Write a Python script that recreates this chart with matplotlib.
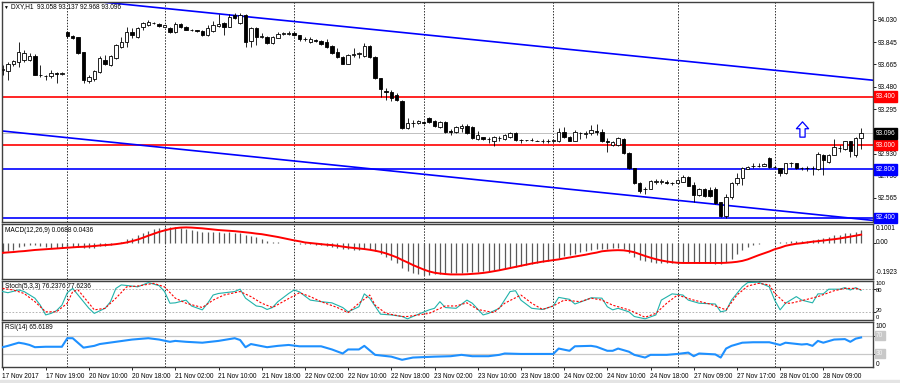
import numpy as np
import matplotlib
matplotlib.use('Agg')
import matplotlib.pyplot as plt
from matplotlib.transforms import blended_transform_factory
from matplotlib.path import Path
from matplotlib.patches import Rectangle

plt.rcParams['font.family'] = ['Liberation Sans', 'DejaVu Sans']
FS = 4.7

# ---- data (DXY, H1) ----
opens = [93.620, 93.610, 93.670, 93.685, 93.700, 93.700, 93.730, 93.580, 93.570, 93.565, 93.590, 93.585,
         93.930, 93.900, 93.890, 93.770, 93.530, 93.545, 93.600, 93.700, 93.660, 93.720, 93.810, 93.850,
         93.930, 93.890, 93.975, 93.990, 94.005, 94.000, 93.975, 93.965, 93.930, 94.000, 93.975, 93.950,
         93.945, 93.940, 93.910, 93.940, 93.980, 94.005, 93.975, 94.070, 94.005, 94.070, 93.860, 93.965,
         93.890, 93.890, 93.840, 93.885, 93.915, 93.915, 93.925, 93.905, 93.875, 93.845, 93.865, 93.860,
         93.845, 93.815, 93.770, 93.725, 93.670, 93.745, 93.750, 93.735, 93.815, 93.725, 93.550, 93.445,
         93.440, 93.410, 93.365, 93.140, 93.180, 93.185, 93.190, 93.225, 93.200, 93.150, 93.190, 93.115,
         93.105, 93.140, 93.160, 93.150, 93.050, 93.065, 93.050, 93.030, 93.060, 93.050, 93.070, 93.100,
         93.040, 93.040, 93.042, 93.035, 93.035, 93.030, 93.035, 93.035, 93.110, 93.070, 93.035, 93.100,
         93.095, 93.100, 93.120, 93.105, 93.030, 93.000, 93.000, 93.050, 92.935, 92.810, 92.690, 92.640,
         92.640, 92.700, 92.700, 92.700, 92.688, 92.690, 92.700, 92.740, 92.670, 92.590, 92.640, 92.630,
         92.640, 92.530, 92.420, 92.570, 92.685, 92.730, 92.805, 92.828, 92.830, 92.830, 92.895, 92.820,
         92.810, 92.770, 92.850, 92.850, 92.810, 92.810, 92.812, 92.800, 92.920, 92.860, 92.920, 92.978,
         92.965, 93.030, 92.920, 93.058]
highs = [93.660, 93.680, 93.700, 93.850, 93.780, 93.760, 93.750, 93.660, 93.580, 93.620, 93.600, 93.600,
         93.940, 93.910, 93.890, 93.770, 93.580, 93.620, 93.730, 93.740, 93.740, 93.830, 93.890, 93.970,
         93.960, 93.970, 94.015, 94.030, 94.015, 94.005, 93.990, 93.975, 94.010, 94.005, 93.980, 93.955,
         93.950, 93.945, 93.990, 94.020, 94.080, 94.010, 94.080, 94.090, 94.090, 94.080, 93.970, 93.975,
         93.925, 93.895, 93.900, 93.930, 93.935, 93.940, 93.935, 93.910, 93.890, 93.890, 93.875, 93.865,
         93.870, 93.820, 93.800, 93.730, 93.750, 93.800, 93.770, 93.840, 93.820, 93.730, 93.555, 93.470,
         93.450, 93.425, 93.370, 93.220, 93.207, 93.210, 93.200, 93.235, 93.210, 93.200, 93.200, 93.130,
         93.160, 93.175, 93.170, 93.160, 93.120, 93.070, 93.065, 93.075, 93.075, 93.090, 93.110, 93.105,
         93.050, 93.045, 93.060, 93.040, 93.050, 93.050, 93.050, 93.140, 93.150, 93.075, 93.125, 93.110,
         93.115, 93.165, 93.175, 93.130, 93.060, 93.030, 93.070, 93.060, 92.940, 92.815, 92.700, 92.655,
         92.715, 92.720, 92.720, 92.710, 92.700, 92.720, 92.755, 92.745, 92.700, 92.650, 92.645, 92.655,
         92.655, 92.535, 92.600, 92.700, 92.770, 92.820, 92.830, 92.850, 92.850, 92.855, 92.905, 92.830,
         92.815, 92.855, 92.860, 92.855, 92.820, 92.825, 92.830, 92.940, 92.930, 92.930, 93.050, 93.000,
         93.035, 93.035, 93.065, 93.137]
lows = [93.580, 93.540, 93.650, 93.640, 93.680, 93.690, 93.575, 93.560, 93.540, 93.550, 93.510, 93.580,
        93.880, 93.870, 93.750, 93.510, 93.510, 93.530, 93.590, 93.660, 93.650, 93.710, 93.800, 93.810,
        93.880, 93.880, 93.950, 93.980, 93.995, 93.975, 93.970, 93.925, 93.920, 93.960, 93.945, 93.940,
        93.935, 93.900, 93.900, 93.930, 93.970, 93.905, 93.970, 94.040, 94.000, 93.810, 93.810, 93.825,
        93.880, 93.835, 93.830, 93.880, 93.905, 93.910, 93.900, 93.860, 93.860, 93.840, 93.850, 93.820,
        93.800, 93.750, 93.715, 93.665, 93.665, 93.725, 93.720, 93.725, 93.720, 93.545, 93.395, 93.370,
        93.365, 93.360, 93.130, 93.130, 93.150, 93.175, 93.170, 93.185, 93.150, 93.140, 93.100, 93.080,
        93.100, 93.110, 93.090, 93.050, 93.040, 93.040, 93.020, 92.995, 93.035, 93.040, 93.060, 93.035,
        93.020, 93.030, 93.030, 93.030, 93.020, 93.020, 93.025, 93.025, 93.055, 93.030, 93.030, 93.050,
        93.060, 93.085, 93.085, 93.025, 92.940, 92.995, 92.990, 92.930, 92.800, 92.680, 92.605, 92.598,
        92.635, 92.680, 92.680, 92.680, 92.670, 92.680, 92.695, 92.660, 92.530, 92.585, 92.575, 92.575,
        92.515, 92.405, 92.400, 92.560, 92.675, 92.675, 92.800, 92.810, 92.820, 92.825, 92.815, 92.810,
        92.745, 92.765, 92.820, 92.805, 92.795, 92.790, 92.755, 92.795, 92.755, 92.855, 92.915, 92.940,
        92.960, 92.905, 92.905, 92.968]
closes = [93.630, 93.670, 93.690, 93.766, 93.760, 93.730, 93.580, 93.575, 93.565, 93.590, 93.585, 93.590,
          93.900, 93.885, 93.760, 93.540, 93.560, 93.610, 93.720, 93.670, 93.730, 93.820, 93.850, 93.930,
          93.905, 93.965, 94.005, 94.015, 94.008, 93.980, 93.985, 93.930, 94.000, 93.970, 93.950, 93.948,
          93.940, 93.905, 93.965, 93.990, 94.000, 93.975, 94.055, 94.045, 94.070, 93.850, 93.965, 93.890,
          93.895, 93.840, 93.890, 93.915, 93.920, 93.925, 93.905, 93.875, 93.870, 93.875, 93.860, 93.830,
          93.810, 93.760, 93.725, 93.670, 93.745, 93.750, 93.755, 93.815, 93.725, 93.550, 93.460, 93.440,
          93.390, 93.370, 93.140, 93.180, 93.182, 93.200, 93.180, 93.190, 93.155, 93.190, 93.110, 93.110,
          93.150, 93.160, 93.100, 93.060, 93.080, 93.050, 93.048, 93.065, 93.058, 93.080, 93.100, 93.040,
          93.042, 93.040, 93.040, 93.033, 93.030, 93.035, 93.040, 93.110, 93.070, 93.035, 93.110, 93.100,
          93.097, 93.125, 93.105, 93.030, 93.025, 93.025, 93.060, 92.935, 92.810, 92.690, 92.620, 92.640,
          92.705, 92.700, 92.702, 92.685, 92.690, 92.710, 92.740, 92.665, 92.590, 92.640, 92.580, 92.580,
          92.520, 92.415, 92.570, 92.690, 92.730, 92.810, 92.820, 92.830, 92.832, 92.845, 92.820, 92.820,
          92.770, 92.850, 92.850, 92.810, 92.810, 92.812, 92.810, 92.930, 92.880, 92.920, 92.985, 92.980,
          93.030, 92.950, 93.060, 93.096]

time_labels = ['17 Nov 2017', '17 Nov 19:00', '20 Nov 10:00', '20 Nov 18:00', '21 Nov 02:00',
               '21 Nov 10:00', '21 Nov 18:00', '22 Nov 02:00', '22 Nov 10:00', '22 Nov 18:00',
               '23 Nov 02:00', '23 Nov 10:00', '23 Nov 18:00', '24 Nov 02:00', '24 Nov 10:00',
               '24 Nov 18:00', '27 Nov 09:00', '27 Nov 17:00', '28 Nov 01:00', '28 Nov 09:00']
label_bars = [0, 8, 16, 24, 32, 40, 48, 56, 64, 72, 80, 88, 96, 104, 112, 120, 128, 136, 144, 152]
day_start_bars = [12, 30, 54, 78, 102, 125, 143]

price_ticks = [94.030, 93.845, 93.665, 93.480, 93.295, 92.930, 92.750, 92.565]
red_levels = [93.400, 93.000]
blue_levels = [92.800, 92.400]
last_price = 93.096
upper_channel = [(55, 94.013), (161, 93.535)]
lower_channel = [(0, 93.116), (161, 92.381)]
arrow_bar = 148
arrow_price = 93.129

macd_main = [-0.055, -0.045, -0.040, -0.020, -0.015, -0.012, -0.012, -0.015, -0.022, -0.025, -0.027, -0.028,
             -0.022, -0.020, -0.020, -0.028, -0.030, -0.025, -0.018, -0.015, -0.010, -0.002, 0.005, 0.018,
             0.028, 0.040, 0.052, 0.062, 0.072, 0.078, 0.085, 0.082, 0.083, 0.080, 0.075, 0.070,
             0.065, 0.060, 0.058, 0.058, 0.055, 0.054, 0.056, 0.054, 0.050, 0.042, 0.036, 0.030,
             0.020, 0.012, 0.006, 0.003, 0.000, -0.003, -0.005, -0.006, -0.007, -0.008, -0.010, -0.012,
             -0.015, -0.020, -0.025, -0.032, -0.035, -0.036, -0.036, -0.034, -0.035, -0.043, -0.057, -0.074,
             -0.089, -0.106, -0.133, -0.149, -0.160, -0.167, -0.172, -0.172, -0.168, -0.167, -0.167, -0.163,
             -0.160, -0.158, -0.156, -0.156, -0.154, -0.152, -0.149, -0.145, -0.142, -0.137, -0.131, -0.128,
             -0.124, -0.119, -0.113, -0.106, -0.101, -0.096, -0.089, -0.078, -0.071, -0.066, -0.057, -0.050,
             -0.043, -0.039, -0.035, -0.032, -0.032, -0.030, -0.028, -0.032, -0.053, -0.074, -0.089, -0.098,
             -0.103, -0.106, -0.106, -0.108, -0.108, -0.106, -0.103, -0.103, -0.106, -0.106, -0.108, -0.108,
             -0.110, -0.113, -0.103, -0.085, -0.062, -0.039, -0.021, -0.011, -0.005, -0.002, 0.000, 0.002,
             0.002, 0.007, 0.009, 0.009, 0.011, 0.012, 0.014, 0.021, 0.025, 0.032, 0.039, 0.044,
             0.050, 0.053, 0.059, 0.0688]
macd_signal = [-0.053, -0.051, -0.049, -0.046, -0.044, -0.041, -0.038, -0.036, -0.034, -0.032, -0.030, -0.028,
               -0.026, -0.024, -0.022, -0.021, -0.019, -0.017, -0.014, -0.012, -0.010, -0.007, -0.003, 0.002,
               0.009, 0.017, 0.027, 0.038, 0.048, 0.058, 0.066, 0.073, 0.078, 0.081, 0.082, 0.081,
               0.079, 0.077, 0.074, 0.071, 0.068, 0.066, 0.064, 0.062, 0.059, 0.056, 0.053, 0.049,
               0.046, 0.041, 0.036, 0.031, 0.025, 0.019, 0.013, 0.008, 0.002, -0.001, -0.004, -0.007,
               -0.010, -0.012, -0.016, -0.020, -0.024, -0.027, -0.030, -0.033, -0.037, -0.042, -0.048, -0.056,
               -0.066, -0.077, -0.091, -0.104, -0.118, -0.130, -0.142, -0.152, -0.159, -0.163, -0.166, -0.168,
               -0.168, -0.168, -0.167, -0.165, -0.163, -0.160, -0.156, -0.151, -0.146, -0.140, -0.134, -0.128,
               -0.122, -0.116, -0.110, -0.105, -0.100, -0.096, -0.092, -0.088, -0.083, -0.078, -0.073, -0.068,
               -0.063, -0.057, -0.052, -0.045, -0.042, -0.040, -0.039, -0.040, -0.044, -0.050, -0.060, -0.070,
               -0.079, -0.087, -0.094, -0.099, -0.103, -0.106, -0.107, -0.107, -0.107, -0.107, -0.107, -0.107,
               -0.107, -0.107, -0.106, -0.104, -0.101, -0.096, -0.088, -0.077, -0.066, -0.056, -0.046, -0.034,
               -0.026, -0.016, -0.010, -0.005, -0.002, 0.002, 0.006, 0.009, 0.012, 0.016, 0.019, 0.023,
               0.028, 0.033, 0.038, 0.0436]
macd_range = (-0.1923, 0.1001)

stoch_main_bars = [0, 1, 3, 4, 6, 7, 8, 9, 10, 11, 12, 13, 14, 16, 17, 19, 20, 21, 22, 24, 25, 26, 27, 29,
                   30, 31, 32, 34, 35, 37, 38, 39, 40, 43, 44, 45, 47, 48, 49, 50, 51, 53, 54, 55, 57, 59,
                   61, 63, 64, 66, 67, 68, 70, 72, 74, 75, 76, 79, 80, 81, 82, 84, 86, 87, 89, 90, 92, 94,
                   95, 96, 98, 100, 102, 103, 105, 106, 108, 109, 111, 112, 113, 114, 116, 117, 119, 121,
                   122, 124, 126, 127, 129, 132, 133, 134, 135, 137, 138, 140, 142, 143, 144, 145, 147, 148,
                   150, 151, 152, 153, 155, 156, 157, 158, 159]
stoch_main = [73, 70, 77, 73, 56, 38, 13, 17, 24, 38, 70, 81, 64, 30, 17, 30, 47, 81, 90, 87, 85, 90, 96, 88,
              73, 43, 44, 51, 36, 26, 43, 64, 68, 73, 79, 56, 36, 34, 27, 32, 47, 68, 77, 72, 51, 47,
              44, 32, 21, 34, 67, 56, 15, 13, 9, 3, 9, 26, 30, 47, 32, 30, 51, 43, 13, 17, 30, 73,
              75, 51, 30, 27, 36, 58, 53, 41, 51, 57, 56, 34, 26, 30, 21, 9, 3, 13,
              51, 67, 64, 51, 43, 41, 21, 24, 51, 85, 96, 97, 85, 51, 26, 43, 60, 51,
              44, 67, 67, 79, 79, 83, 77, 83, 76.2376]
stoch_signal_bars = [0, 2, 4, 6, 8, 10, 12, 13, 14, 16, 17, 19, 21, 23, 25, 28, 30, 32, 34, 37, 39, 41, 44,
                     46, 48, 50, 53, 55, 57, 59, 62, 64, 66, 68, 69, 71, 74, 75, 79, 82, 84, 86, 88, 91, 93,
                     96, 98, 100, 102, 104, 107, 109, 111, 113, 116, 119, 121, 123, 125, 128, 131, 134, 136,
                     138, 140, 142, 143, 145, 146, 149, 151, 154, 156, 158, 159]
stoch_signal = [81, 77, 68, 47, 21, 21, 43, 73, 77, 43, 26, 30, 56, 85, 87, 94, 85, 56, 43, 32, 51, 64, 73,
                60, 43, 32, 55, 70, 60, 47, 32, 19, 43, 64, 38, 17, 9, 9, 17, 36, 36, 44, 27, 19, 43,
                64, 43, 27, 36, 51, 47, 56, 51, 38, 26, 7, 17, 43, 64, 51, 41, 26, 64,
                87, 94, 90, 68, 43, 43, 53, 60, 75, 81, 81, 77.6236]

rsi_bars = [0, 1, 3, 4, 5, 6, 8, 11, 12, 13, 15, 17, 18, 21, 24, 27, 29, 31, 32, 34, 37, 40, 43, 44, 45,
            46, 49, 51, 53, 55, 59, 61, 63, 64, 66, 67, 69, 72, 74, 76, 80, 83, 85, 87, 90, 92, 93, 96,
            102, 103, 105, 106, 109, 110, 112, 113, 114, 116, 117, 119, 120, 123, 125, 127, 128, 129, 132,
            133, 134, 135, 137, 139, 142, 144, 145, 148, 149, 150, 151, 152, 154, 156, 157, 158, 159]
rsi_values = [44, 47, 54, 52, 49, 44, 45, 45, 64, 64, 43, 47, 51, 56, 61, 64, 61, 56, 58, 56, 54, 58, 64, 60, 44,
              51, 44, 47, 49, 46, 46, 39, 30, 39, 39, 47, 27, 23, 16, 21, 23, 24, 27, 24, 24, 27, 30, 29,
              29, 41, 36, 46, 47, 45, 36, 36, 41, 34, 27, 21, 27, 27, 29, 32, 24, 30, 28,
              21, 41, 47, 54, 55, 55, 49, 54, 50, 51, 47, 58, 54, 61, 62, 56, 63, 65.6189]

# ---- figure layout (pixel based, like the terminal window) ----
W, H = 900, 383
fig = plt.figure(figsize=(9, 3.83), dpi=100)
fig.patch.set_facecolor('white')


def panel(top, bottom):
    ax = fig.add_axes([2 / W, 1 - bottom / H, 871 / W, (bottom - top) / H])
    ax.set_xlim(-0.5 / 5.4, 870.5 / 5.4)
    for s in ax.spines.values():
        s.set_color('#404040')
        s.set_linewidth(1.0)
    ax.set_xticks([])
    ax.yaxis.tick_right()
    ax.tick_params(axis='y', length=2, width=0.6, pad=1.5, labelsize=FS, colors='black')
    for b in day_start_bars:
        ax.axvline(b, color='#303030', lw=0.7, ls=(0, (1.5, 1.5)), zorder=1)
    return ax


def ftext(x, y, s, **kw):
    kw.setdefault('fontsize', FS)
    kw.setdefault('va', 'center')
    fig.text(x / W, 1 - y / H, s, **kw)


ax = panel(2, 222)
ax2 = panel(224, 279)
ax3 = panel(281, 320)
ax4 = panel(322, 367)

# ---- main price panel ----
o = np.array(opens)
h = np.array(highs)
l = np.array(lows)
c = np.array(closes)
x = np.arange(len(c))
up = c >= o
lo = np.minimum(o, c)
hh = np.maximum(np.abs(c - o), 0.0015)

ax.set_ylim(92.367, 94.178)
ax.axhline(last_price, color='#C0C0C0', lw=0.7, zorder=1)
for lev in red_levels:
    ax.axhline(lev, color='#FF0000', lw=1.2, zorder=2)
for lev in blue_levels:
    ax.axhline(lev, color='#0000FF', lw=1.2, zorder=2)
ax.axline(upper_channel[0], upper_channel[1], color='#0000FF', lw=1.2, zorder=2)
ax.axline(lower_channel[0], lower_channel[1], color='#0000FF', lw=1.2, zorder=2)

ax.vlines(x, l, h, color='black', lw=0.6, zorder=3)
ax.bar(x[up], hh[up], bottom=lo[up], width=0.6, facecolor='white', edgecolor='black', linewidth=0.6, zorder=4)
ax.bar(x[~up], hh[~up], bottom=lo[~up], width=0.6, facecolor='black', edgecolor='black', linewidth=0.6, zorder=4)

arrow = Path([(0, 1), (0.8, 0.1), (0.34, 0.1), (0.34, -1), (-0.34, -1), (-0.34, 0.1), (-0.8, 0.1), (0, 1)],
             [Path.MOVETO] + [Path.LINETO] * 6 + [Path.CLOSEPOLY])
ax.plot([arrow_bar], [arrow_price], marker=arrow, ms=11, mfc='white', mec='#0000FF', mew=0.9, zorder=5)

ax.set_yticks(price_ticks)
ax.set_yticklabels(['%.3f' % p for p in price_ticks])

tr = blended_transform_factory(ax.transAxes, ax.transData)
boxes = [(p, '#FF0000') for p in red_levels] + [(p, '#0000FF') for p in blue_levels] + [(last_price, 'black')]
for p, col in boxes:
    ax.text(1.0035, p, '%.3f' % p, transform=tr, ha='left', va='center', fontsize=FS, color='white',
            bbox=dict(boxstyle='square,pad=0.25', fc=col, ec=col), clip_on=False, zorder=6)

ftext(3, 7, '\u25bc', fontsize=3.5)
ftext(11, 7, 'DXY,H1  %.3f %.3f %.3f %.3f' % (opens[-1], highs[-1], lows[-1], closes[-1]))

# ---- MACD ----
ax2.set_ylim(*macd_range)
ax2.vlines(x, 0, macd_main, color='#5A5A5A', lw=0.9, zorder=2)
ax2.plot(x, macd_signal, color='#FF0000', lw=1.4, zorder=3)
ax2.set_yticks([0])
ax2.set_yticklabels([''])
ftext(876, 228.5, '0.1001')
ftext(876, 242.8, '0.00')
ftext(876, 272.7, '-0.1923')
ftext(5, 230, 'MACD(12,26,9) %.4f %.4f' % (macd_main[-1], macd_signal[-1]))

# ---- Stochastic ----
ax3.set_ylim(0, 100)
for lev in (20, 80):
    ax3.axhline(lev, color='#A8A8A8', lw=0.6, ls=(0, (2, 2)), zorder=1)
ax3.plot(stoch_main_bars, stoch_main, color='#20B2AA', lw=0.8, zorder=3)
ax3.plot(stoch_signal_bars, stoch_signal, color='#FF0000', lw=0.8, ls=(0, (2, 1.5)), zorder=3)
ax3.set_yticks([20, 80])
ax3.set_yticklabels(['', ''])
ftext(876, 283.6, '100', fontsize=4.2)
ftext(876, 290.4, '80', fontsize=4.2)
ftext(876, 310.6, '20', fontsize=4.2)
ftext(876, 317.2, '0', fontsize=4.2)
ftext(5, 286.5, 'Stoch(5,3,3) %.4f %.4f' % (stoch_main[-1], stoch_signal[-1]))

# ---- RSI ----
ax4.set_ylim(0, 100)
for lev in (30, 70):
    ax4.axhline(lev, color='#C8C8C8', lw=0.9, zorder=1)
ax4.plot(rsi_bars, rsi_values, color='#1E90FF', lw=1.5, zorder=3)
ax4.set_yticks([30, 70])
ax4.set_yticklabels(['', ''])
ftext(876, 326.7, '100')
ftext(876, 364, '0')
tr4 = blended_transform_factory(ax4.transAxes, ax4.transData)
for lev in (70, 30):
    ax4.text(1.0035, lev, str(lev), transform=tr4, ha='left', va='center', fontsize=FS, color='#F4F4F4',
             bbox=dict(boxstyle='square,pad=0.2', fc='#C8C8C8', ec='#C8C8C8'), clip_on=False)
ftext(5, 327.5, 'RSI(14) %.4f' % rsi_values[-1])

ax4.set_xticks(label_bars)
ax4.set_xticklabels(time_labels, ha='left')
ax4.tick_params(axis='x', length=2, width=0.6, pad=2, labelsize=FS, colors='black')

fig.patches.append(Rectangle((0, 0), 1, 3 / H, transform=fig.transFigure, color='#E4E4E4'))

fig.savefig('out.png', dpi=100)
